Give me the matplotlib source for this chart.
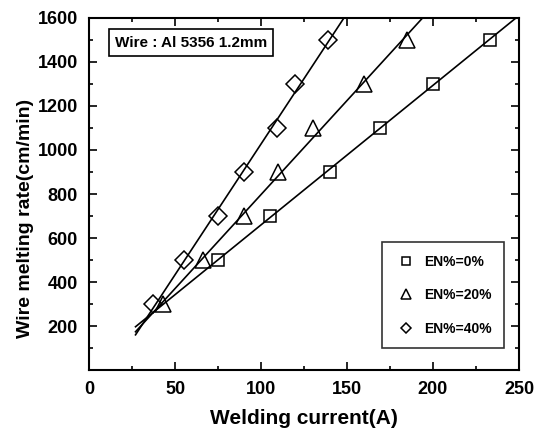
import matplotlib
matplotlib.use("Agg")
import matplotlib.pyplot as plt
import numpy as np

plt.rcParams['font.family'] = ['Liberation Sans Narrow', 'Liberation Sans', 'DejaVu Sans']
plt.rcParams['font.weight'] = 'bold'

# EN% = 0 %
current_0 = [75, 105, 140, 169, 200, 233]
rate_0 = [500, 700, 900, 1100, 1300, 1500]
# EN% = 20 %
current_20 = [43, 66, 90, 110, 130, 160, 185]
rate_20 = [300, 500, 700, 900, 1100, 1300, 1500]
# EN% = 40 %
current_40 = [37, 55, 75, 90, 109, 120, 139]
rate_40 = [300, 500, 700, 900, 1100, 1300, 1500]

labels = ['EN%=0%', 'EN%=20%', 'EN%=40%']
markers = ['s', '^', 'D']
msizes = [9, 11, 9]

fig = plt.figure(figsize=(5.4, 4.36), dpi=100)
ax = fig.add_axes([0.165, 0.151, 0.796, 0.808])

x_fit = np.linspace(27, 260, 100)
for xs, ys, lab, m, ms in zip([current_0, current_20, current_40],
                              [rate_0, rate_20, rate_40], labels, markers, msizes):
    k, b = np.polyfit(xs, ys, 1)
    ax.plot(x_fit, k * x_fit + b, color='black', lw=1.2)
    ax.plot(xs, ys, linestyle='none', marker=m, markersize=ms, markerfacecolor='none',
            markeredgecolor='black', markeredgewidth=1.1, label=lab)

ax.set_xlim(0, 250)
ax.set_ylim(0, 1600)
ax.set_xticks([0, 50, 100, 150, 200, 250])
ax.set_yticks([200, 400, 600, 800, 1000, 1200, 1400, 1600])
ax.set_xticks(np.arange(25, 250, 50), minor=True)
ax.set_yticks(np.arange(100, 1600, 200), minor=True)
ax.tick_params(which='both', direction='in', top=True, right=True, width=1.2)
ax.tick_params(which='major', length=6, labelsize=13, pad=8)
ax.tick_params(which='minor', length=3)
for s in ax.spines.values():
    s.set_linewidth(1.5)

ax.set_xlabel('Welding current(A)', fontsize=15, fontweight='bold', labelpad=8)
ax.set_ylabel('Wire melting rate(cm/min)', fontsize=14, fontweight='bold')
ax.yaxis.set_label_coords(-0.128, 0.43)

ax.text(0.06, 0.93, 'Wire : Al 5356 1.2mm', transform=ax.transAxes, fontsize=11,
        fontweight='bold', va='center', ha='left',
        bbox=dict(boxstyle='square,pad=0.4', facecolor='white', edgecolor='black', lw=1.2))

leg = ax.legend(loc='lower right', bbox_to_anchor=(0.982, 0.043), markerscale=0.6, fontsize=10,
                frameon=True, fancybox=False, edgecolor='black', handletextpad=0.5,
                handlelength=1.6, labelspacing=1.4, borderpad=0.9)
leg.get_frame().set_linewidth(1.2)

fig.savefig('out.png', dpi=100)
